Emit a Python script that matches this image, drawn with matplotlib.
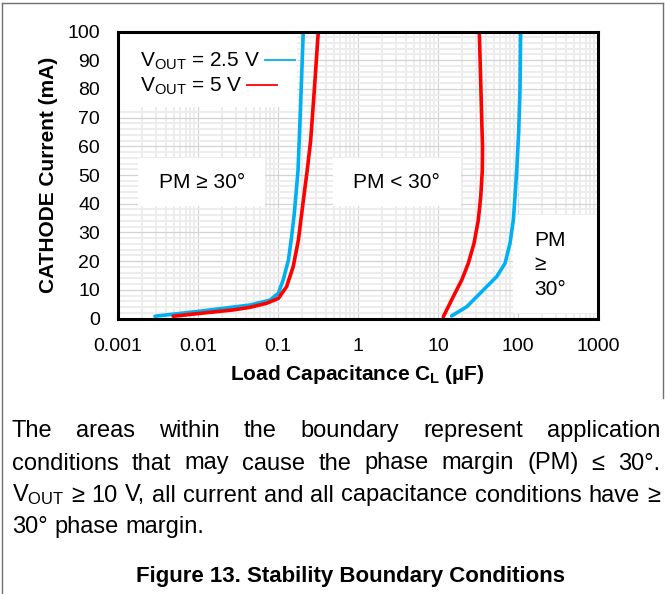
import numpy as np
import matplotlib
matplotlib.use('Agg')
import matplotlib.pyplot as plt
from matplotlib.patches import Rectangle
from matplotlib.lines import Line2D
from matplotlib.ticker import LogLocator, MultipleLocator, FixedLocator, FixedFormatter

plt.rcParams['font.family'] = ['Liberation Sans', 'DejaVu Sans']
plt.rcParams['mathtext.fontset'] = 'custom'
plt.rcParams['mathtext.rm'] = 'Liberation Sans'
plt.rcParams['mathtext.it'] = 'Liberation Sans:italic'
plt.rcParams['mathtext.bf'] = 'Liberation Sans:bold'

# boundary curves (C in uF, I in mA)
blue_low_c = [0.0029, 0.0096, 0.0447, 0.0794, 0.101, 0.116, 0.135, 0.148, 0.160,
              0.171, 0.178, 0.186, 0.196, 0.207]
blue_low_i = [0.8, 2.4, 4.7, 6.4, 8.8, 13.4, 20.4, 28.5, 36.7, 45.9, 51.7, 65, 82, 100]
red_low_c = [0.0049, 0.0277, 0.0447, 0.072, 0.101, 0.128, 0.155, 0.180, 0.198,
             0.218, 0.232, 0.256, 0.285, 0.319]
red_low_i = [0.8, 3.0, 3.9, 5.3, 7.0, 11.1, 18.1, 27.4, 36.7, 45.9, 51.7, 62, 80, 100]

blue_high_c = [14.8, 22.9, 30.5, 40.6, 54.2, 68.8, 79.4, 87.4, 91.7, 96.4, 102, 106, 108]
blue_high_i = [0.9, 4.1, 7.6, 11.1, 14.6, 19.2, 26.2, 34.3, 42.4, 51.7, 65, 80, 100]
red_high_c = [11.65, 15.5, 19.8, 23.9, 28.2, 31.9, 34.2, 35.8, 36.0, 35.2, 34.0, 32.8]
red_high_i = [0.6, 7.6, 13.4, 19.2, 26.2, 34.3, 42.4, 51.7, 60, 69.2, 85, 100]

xticks = [0.001, 0.01, 0.1, 1, 10, 100, 1000]
xtick_labels = ['0.001', '0.01', '0.1', '1', '10', '100', '1000']
yticks = list(range(0, 101, 10))

series_labels = [r'V$_{\mathrm{OUT}}$ = 2.5 V', r'V$_{\mathrm{OUT}}$ = 5 V']
BLUE = '#00b0f0'
RED = '#ff0000'

W, H = 665, 594


def fx(x):
    return x / W


def fy(y):
    return 1 - y / H


fig = plt.figure(figsize=(6.65, 5.94), dpi=100)
ax = fig.add_axes([fx(118), fy(318.5), (598 - 118) / W, (318.5 - 31.5) / H])
ax.set_xscale('log')
ax.set_xlim(0.001, 1000)
ax.set_ylim(0, 100)
ax.xaxis.set_major_locator(FixedLocator(xticks))
ax.xaxis.set_major_formatter(FixedFormatter(xtick_labels))
ax.xaxis.set_minor_locator(LogLocator(base=10, subs=np.arange(2, 10)))
ax.xaxis.set_minor_formatter(plt.NullFormatter())
ax.set_yticks(yticks)
ax.yaxis.set_minor_locator(MultipleLocator(2))
ax.set_axisbelow(True)
ax.grid(which='major', color='#d4d4d4', lw=0.9)
ax.grid(which='minor', color='#ececec', lw=1.3)
ax.tick_params(which='both', length=0, labelsize=14)
ax.tick_params(axis='y', pad=13)
ax.tick_params(axis='x', pad=14)
for s in ax.spines.values():
    s.set_linewidth(2.2)
    s.set_color('black')
    s.set_zorder(5)

# white boxes behind the annotations
for x0, y0, x1, y1 in [(120, 33, 297, 107), (138, 158, 265, 206),
                       (333, 158, 461, 206), (513, 215, 597, 313)]:
    ax.add_patch(Rectangle((fx(x0), fy(y1)), (x1 - x0) / W, (y1 - y0) / H,
                           transform=fig.transFigure, fc='white', ec='none', zorder=1))

kw = dict(lw=2.6, solid_capstyle='round', solid_joinstyle='round', zorder=3)
ax.plot(blue_low_c, blue_low_i, color=BLUE, **kw)
ax.plot(red_low_c, red_low_i, color=RED, **kw)
ax.plot(blue_high_c, blue_high_i, color=BLUE, **kw)
ax.plot(red_high_c, red_high_i, color=RED, **kw)

# legend drawn by hand
fig.text(fx(140), fy(66.7), series_labels[0], fontsize=15, va='baseline', zorder=4)
fig.text(fx(140), fy(91.7), series_labels[1], fontsize=15, va='baseline', zorder=4)
fig.add_artist(Line2D([fx(265), fx(295)], [fy(60), fy(60)], color=BLUE, lw=1.3))
fig.add_artist(Line2D([fx(247), fx(277)], [fy(85), fy(85)], color=RED, lw=1.3))

fig.text(fx(202), fy(188.5), 'PM ≥ 30°', fontsize=15, ha='center', va='baseline')
fig.text(fx(396.5), fy(188.5), 'PM < 30°', fontsize=15, ha='center', va='baseline')
fig.text(fx(534), fy(245.5), 'PM', fontsize=15, va='baseline')
fig.text(fx(534), fy(270), '≥', fontsize=15, va='baseline')
fig.text(fx(534), fy(295), '30°', fontsize=15, va='baseline')

fig.text(fx(357.5), fy(374), r'Load Capacitance C$_{\mathbf{L}}$ (µF)', fontsize=15,
         fontweight='bold', ha='center', va='center')
fig.text(fx(48.5), fy(175), 'CATHODE Current (mA)', fontsize=15, fontweight='bold',
         rotation=90, ha='center', va='center')

# paragraph under the chart, justified
renderer = fig.canvas.get_renderer()


def put_line(words, y, left=12, right=660, justify=True, size=17):
    texts = [fig.text(0, fy(y), w, fontsize=size, va='baseline', ha='left') for w in words]
    widths = [t.get_window_extent(renderer).width for t in texts]
    if justify and len(words) > 1:
        gap = (right - left - sum(widths)) / (len(words) - 1)
    else:
        gap = 0.278 * size * 100 / 72
    x = left
    for t, w in zip(texts, widths):
        t.set_x(fx(x))
        x += w + gap


put_line('The areas within the boundary represent application'.split(), 436.7)
put_line('conditions that may cause the phase margin (PM) ≤ 30°.'.split(), 469.5)
put_line([r'V$_{\mathrm{OUT}}$'] + '≥ 10 V, all current and all capacitance conditions have ≥'.split(), 501.5)
put_line('30° phase margin.'.split(), 533.3, justify=False)

fig.text(fx(351), fy(581.7), 'Figure 13. Stability Boundary Conditions', fontsize=16,
         fontweight='bold', ha='center', va='baseline')

# outer frame
fig.add_artist(Line2D([fx(2), fx(662.5)], [fy(3), fy(3)], color='#707070', lw=1))
fig.add_artist(Line2D([fx(2), fx(2)], [fy(3), fy(594)], color='#707070', lw=1))
fig.add_artist(Line2D([fx(662.5), fx(662.5)], [fy(3), fy(398)], color='#707070', lw=1))

fig.savefig('out.png', dpi=100)
